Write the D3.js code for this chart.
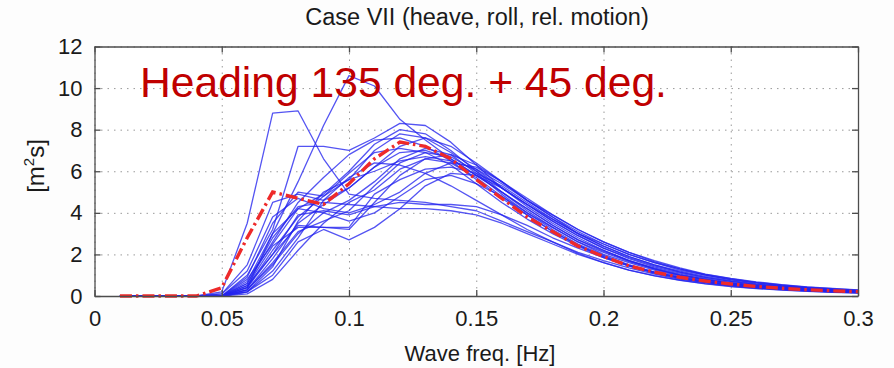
<!DOCTYPE html>
<html>
<head>
<meta charset="utf-8">
<script src="https://cdn.jsdelivr.net/npm/d3@7"></script>
<style>
  html, body { margin: 0; padding: 0; background: #fdfdfd; }
  svg { display: block; font-family: "Liberation Sans", Arial, Helvetica, sans-serif; }
</style>
</head>
<body>
<div id="chart"></div>
<script>
// frequencies [Hz]
const FREQ = [0.01,0.02,0.03,0.04,0.05,0.06,0.07,0.08,0.09,0.10,0.11,0.12,0.13,0.14,0.15,
  0.16,0.17,0.18,0.19,0.20,0.21,0.22,0.23,0.24,0.25,0.26,0.27,0.28,0.29,0.30];

const X_TICKS = [0, 0.05, 0.1, 0.15, 0.2, 0.25, 0.3];
const Y_TICKS = [0, 2, 4, 6, 8, 10, 12];

// mean spectrum (red dash-dot)
const MEAN = [0,0,0,0,0.4,2.8,5.0,4.7,4.4,5.4,6.6,7.4,7.2,6.6,5.6,4.7,3.8,3.1,2.4,1.9,1.45,1.15,0.9,0.72,0.58,0.46,0.37,0.3,0.25,0.21];

// individual spectra (blue)
const RUNS = [
  [0,0,0,0,0.2,3.5,8.8,8.9,6.6,4.9,4.7,4.6,4.5,4.3,4.1,3.6,3.1,2.6,2.1,1.7,1.35,1.05,0.8,0.65,0.5,0.4,0.32,0.26,0.2,0.16],
  [0,0,0,0,0,0.4,3.0,5.5,8.2,10.6,10.1,8.5,7.5,6.6,5.8,5.0,4.2,3.4,2.7,2.2,1.7,1.3,1.0,0.8,0.6,0.5,0.4,0.32,0.26,0.2],
  [0,0,0,0,0,1.0,3.2,7.2,7.2,7.0,7.6,8.3,8.2,7.4,6.3,5.2,4.3,3.5,2.8,2.2,1.7,1.35,1.05,0.8,0.62,0.5,0.4,0.32,0.26,0.21],
  [0,0,0,0,0.1,1.5,4.5,4.9,4.6,5.2,6.2,7.2,7.6,7.2,6.4,5.5,4.6,3.8,3.0,2.4,1.9,1.5,1.15,0.9,0.7,0.55,0.45,0.36,0.29,0.23],
  [0,0,0,0,0,0.8,2.5,4.2,4.9,6.0,7.3,8.0,7.8,7.0,6.0,5.0,4.1,3.3,2.6,2.0,1.6,1.25,0.95,0.75,0.58,0.46,0.37,0.3,0.24,0.19],
  [0,0,0,0,0,0.5,2.0,3.4,3.3,3.2,4.5,5.8,6.6,6.8,6.3,5.5,4.6,3.8,3.1,2.5,2.0,1.6,1.25,1.0,0.78,0.62,0.5,0.4,0.32,0.26],
  [0,0,0,0,0,0.3,1.5,3.0,4.0,4.6,5.5,6.6,7.1,6.8,5.9,4.9,4.0,3.2,2.5,1.95,1.5,1.15,0.9,0.7,0.55,0.43,0.34,0.27,0.22,0.18],
  [0,0,0,0,0.1,1.2,3.8,4.7,4.2,4.0,4.4,5.0,5.9,6.4,6.2,5.5,4.7,3.9,3.2,2.6,2.1,1.65,1.3,1.0,0.8,0.64,0.5,0.4,0.32,0.26],
  [0,0,0,0,0,0.2,1.0,2.6,3.2,2.7,3.3,4.2,5.3,5.9,5.8,5.2,4.4,3.6,2.9,2.3,1.8,1.4,1.1,0.85,0.66,0.52,0.42,0.34,0.27,0.22],
  [0,0,0,0,0,0.6,2.8,4.3,4.5,4.4,4.3,4.2,4.2,4.1,3.9,3.5,3.0,2.5,2.0,1.6,1.25,0.98,0.76,0.6,0.47,0.37,0.3,0.24,0.19,0.15],
  [0,0,0,0,0,0.4,2.2,3.8,4.8,5.9,6.9,7.1,6.9,6.3,5.4,4.5,3.7,3.0,2.4,1.85,1.45,1.1,0.85,0.66,0.52,0.41,0.33,0.26,0.21,0.17],
  [0,0,0,0,0,0.7,3.0,4.2,4.0,3.6,4.0,4.8,5.6,5.8,5.4,4.8,4.0,3.3,2.6,2.1,1.65,1.3,1.0,0.78,0.6,0.48,0.38,0.3,0.24,0.19],
  [0,0,0,0,0,0.3,1.8,3.5,4.4,5.2,6.2,6.9,7.0,6.6,5.8,5.0,4.2,3.4,2.7,2.15,1.7,1.3,1.0,0.8,0.62,0.5,0.4,0.32,0.26,0.21],
  [0,0,0,0,0,0.5,2.4,3.3,3.3,3.3,4.9,5.6,6.1,6.2,5.9,5.3,4.5,3.7,3.0,2.4,1.9,1.5,1.2,0.94,0.74,0.58,0.46,0.37,0.3,0.24],
  [0,0,0,0,0,0.2,1.2,2.8,4.6,5.7,6.4,6.3,5.9,5.3,4.6,3.9,3.2,2.6,2.05,1.6,1.25,0.97,0.75,0.58,0.45,0.36,0.28,0.22,0.18,0.14],
  [0,0,0,0,0,0.9,3.5,5.0,4.8,5.6,7.0,7.8,7.6,6.9,6.1,5.2,4.4,3.6,2.9,2.3,1.85,1.45,1.15,0.9,0.7,0.56,0.45,0.36,0.29,0.23],
  [0,0,0,0,0,0.4,2.0,3.9,4.1,3.9,4.3,4.5,4.4,4.4,4.3,3.9,3.4,2.8,2.3,1.85,1.45,1.15,0.9,0.7,0.55,0.44,0.35,0.28,0.22,0.18],
  [0,0,0,0,0,0.1,0.8,2.2,3.5,4.5,5.1,6.1,6.6,6.4,5.7,4.8,3.9,3.1,2.45,1.9,1.45,1.1,0.85,0.66,0.51,0.4,0.32,0.25,0.2,0.16],
  [0,0,0,0,0,0.6,2.6,4.5,5.7,6.8,7.5,7.6,7.2,6.5,5.6,4.7,3.9,3.1,2.45,1.9,1.5,1.15,0.9,0.7,0.54,0.43,0.34,0.27,0.22,0.17],
  [0,0,0,0,0,0.3,1.6,3.1,3.6,4.1,5.3,6.4,6.9,6.7,6.0,5.2,4.4,3.7,3.0,2.5,2.0,1.6,1.3,1.04,0.83,0.66,0.53,0.43,0.35,0.28],
  [0,0,0,0,0,0.2,1.4,3.6,5.0,5.6,6.0,6.5,6.7,6.5,6.1,5.4,4.6,3.9,3.2,2.6,2.1,1.7,1.35,1.05,0.85,0.68,0.55,0.44,0.36,0.29]
];

const width = 894, height = 368;
const margin = { top: 46.5, right: 36, bottom: 72, left: 94.5 };
const innerW = width - margin.left - margin.right;
const innerH = height - margin.top - margin.bottom;

const svg = d3.select('#chart').append('svg')
  .attr('width', width)
  .attr('height', height);

const g = svg.append('g').attr('transform', `translate(${margin.left},${margin.top})`);

const x = d3.scaleLinear().domain([0, 0.3]).range([0, innerW]);
const y = d3.scaleLinear().domain([0, 12]).range([innerH, 0]);

g.append('rect')
  .attr('width', innerW).attr('height', innerH)
  .attr('fill', '#fff');

// dotted grid
g.append('g')
  .call(d3.axisBottom(x).tickValues(X_TICKS).tickSize(innerH).tickFormat(''))
  .call(ax => ax.select('.domain').remove())
  .call(ax => ax.selectAll('.tick line').attr('stroke', '#9a9a9a').attr('stroke-dasharray', '1.5,5'));

g.append('g')
  .call(d3.axisLeft(y).tickValues(Y_TICKS).tickSize(-innerW).tickFormat(''))
  .call(ax => ax.select('.domain').remove())
  .call(ax => ax.selectAll('.tick line').attr('stroke', '#9a9a9a').attr('stroke-dasharray', '1.5,5'));

// spectra
const line = d3.line()
  .x((d, i) => x(FREQ[i]))
  .y(d => y(d));

g.append('g').selectAll('path')
  .data(RUNS)
  .join('path')
  .attr('d', d => line(d))
  .attr('fill', 'none')
  .attr('stroke', '#2424ee')
  .attr('stroke-opacity', 0.78)
  .attr('stroke-width', 1.3)
  .attr('stroke-linejoin', 'round');

g.append('path')
  .attr('d', line(MEAN))
  .attr('fill', 'none')
  .attr('stroke', '#ee2a2a')
  .attr('stroke-width', 3.4)
  .attr('stroke-dasharray', '12,4,2.5,4');

// axes box with inward ticks
const axisColor = '#4d4d4d';
const styleAxis = ax => {
  ax.select('.domain').attr('stroke', axisColor).attr('stroke-width', 1.3);
  ax.selectAll('.tick line').attr('stroke', axisColor).attr('stroke-width', 1.3);
  ax.selectAll('.tick text').attr('fill', '#1a1a1a').attr('font-size', 22);
};

g.append('g')
  .attr('transform', `translate(0,${innerH})`)
  .call(d3.axisBottom(x).tickValues(X_TICKS).tickSizeInner(-6).tickSizeOuter(0).tickPadding(14)
    .tickFormat(d => d3.format('')(+d.toFixed(2))))
  .call(styleAxis);

g.append('g')
  .call(d3.axisTop(x).tickValues(X_TICKS).tickSizeInner(-6).tickSizeOuter(0).tickFormat(''))
  .call(styleAxis);

g.append('g')
  .call(d3.axisLeft(y).tickValues(Y_TICKS).tickSizeInner(-6).tickSizeOuter(0).tickPadding(12))
  .call(styleAxis);

g.append('g')
  .attr('transform', `translate(${innerW},0)`)
  .call(d3.axisRight(y).tickValues(Y_TICKS).tickSizeInner(-6).tickSizeOuter(0).tickFormat(''))
  .call(styleAxis);

// labels
svg.append('text')
  .attr('x', 477)
  .attr('y', 25)
  .attr('text-anchor', 'middle')
  .attr('font-size', 23.5)
  .attr('fill', '#1a1a1a')
  .text('Case VII (heave, roll, rel. motion)');

svg.append('text')
  .attr('x', 480)
  .attr('y', 361)
  .attr('text-anchor', 'middle')
  .attr('font-size', 22)
  .attr('fill', '#1a1a1a')
  .text('Wave freq. [Hz]');

const yl = svg.append('text')
  .attr('transform', `translate(44,${166}) rotate(-90)`)
  .attr('text-anchor', 'middle')
  .attr('font-size', 24)
  .attr('fill', '#1a1a1a');
yl.append('tspan').text('[m');
yl.append('tspan').attr('font-size', 15).attr('dy', -10).text('2');
yl.append('tspan').attr('dy', 10).text('s]');

svg.append('text')
  .attr('x', 140)
  .attr('y', 97)
  .attr('font-size', 42.6)
  .attr('fill', '#c00000')
  .text('Heading 135 deg. + 45 deg.');
</script>
</body>
</html>
